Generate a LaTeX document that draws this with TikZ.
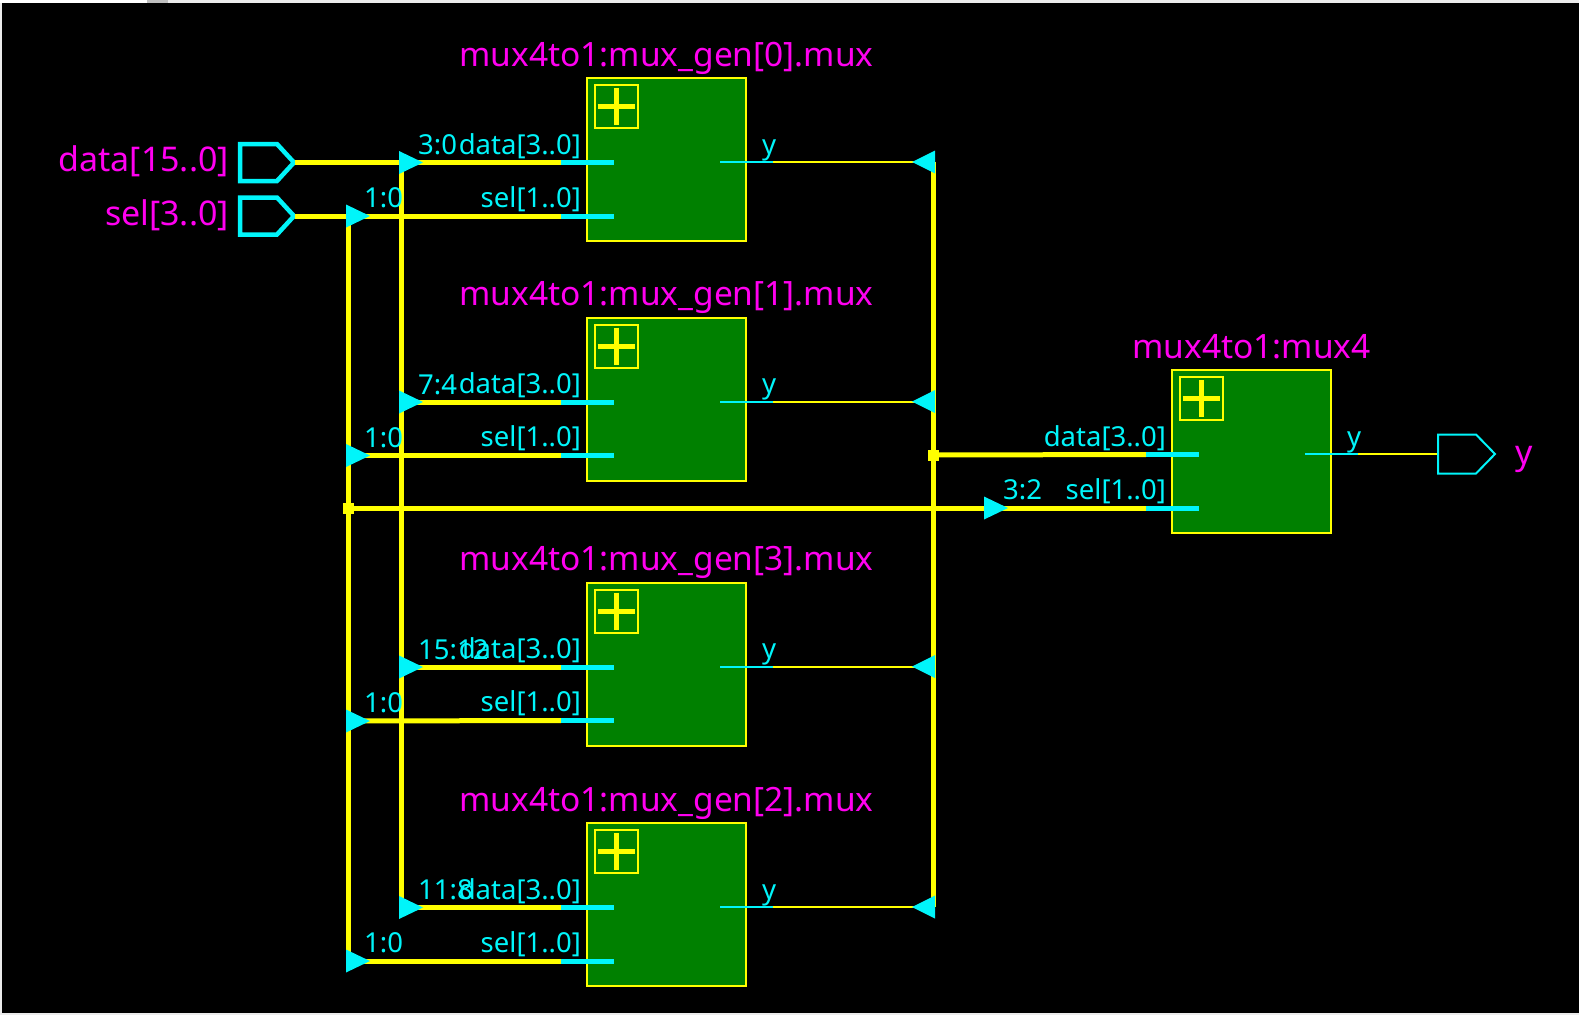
\documentclass[tikz,border=0pt]{standalone}
\usepackage{fontspec}
\setmainfont{Noto Sans}
\definecolor{wireY}{RGB}{255,255,0}
\definecolor{aqua}{RGB}{0,245,250}
\definecolor{mag}{RGB}{255,0,240}
\definecolor{blockG}{RGB}{0,128,0}
\tikzset{
  bus/.style={draw=wireY,line width=5pt},
  thinw/.style={draw=wireY,line width=2pt},
  stub/.style={draw=aqua,line width=5pt},
  thinstub/.style={draw=aqua,line width=2pt},
  blk/.style={draw=wireY,fill=blockG,line width=2pt,minimum width=159pt,minimum height=163pt,inner sep=0pt,outer sep=0pt},
  plusbox/.style={draw=wireY,line width=2pt,minimum width=43pt,minimum height=43pt,inner sep=0pt},
  plusln/.style={draw=wireY,line width=5pt},
  tip/.style={fill=aqua,draw=none},
  title/.style={text=mag,font=\fontsize{33.5}{36}\selectfont,inner sep=0pt,anchor=base},
  plab/.style={text=aqua,font=\fontsize{27.5}{30}\selectfont,inner sep=0pt},
  pinl/.style={text=mag,font=\fontsize{34}{36}\selectfont,inner sep=0pt,anchor=base east},
}
% block: name, left x, top y, title
\newcommand{\MuxBlock}[4]{%
  \node[blk,anchor=north west] (#1) at (#2,#3) {};
  \node[plusbox,anchor=north west] (#1plus) at (#2+6.5,#3+6) {};
  \draw[plusln] ($(#1plus.center)+(-18.5,0)$) -- ($(#1plus.center)+(18.5,0)$);
  \draw[plusln] ($(#1plus.center)+(0,-18.5)$) -- ($(#1plus.center)+(0,18.5)$);
  \node[title] (#1title) at (#2+79.5,#3-12) {#4};
  \coordinate (#1d) at (#2-26,#3+84.5);
  \coordinate (#1di) at (#2+27,#3+84.5);
  \coordinate (#1s) at (#2-26,#3+138);
  \coordinate (#1si) at (#2+27,#3+138);
  \coordinate (#1y) at (#2+133,#3+84);
  \coordinate (#1yo) at (#2+186,#3+84);
  \draw[thinstub] (#1y) -- (#1yo);
  \node[plab,anchor=base east] (#1dl) at (#2-6,#3+76) {data[3..0]};
  \node[plab,anchor=base east] (#1sl) at (#2-6,#3+129) {sel[1..0]};
  \node[plab,anchor=base west] (#1yl) at (#2+175,#3+76) {y};
}
\newcommand{\TipR}[1]{\fill[tip] (#1) ++(-2,-11.5) -- ++(24,11.5) -- ++(-24,11.5) -- cycle;}
\newcommand{\TipL}[1]{\fill[tip] (#1) ++(2,-11.5) -- ++(-23,11.5) -- ++(23,11.5) -- cycle;}
\usetikzlibrary{calc}
\begin{document}
\begin{tikzpicture}[x=1pt,y=-1pt]
\useasboundingbox (0,0) rectangle (1579,1015);
% window frame
\fill[white!92!black] (0,0) rectangle (1579,1015);
\fill[white] (0,0) rectangle (147,3);
\fill[black!25] (147,0) rectangle (168,3);
\fill[black] (2,3) rectangle (1579,1013);

% junction coordinates
\coordinate (busD) at (401,162.5);
\coordinate (busS) at (348,216);
\coordinate (busY) at (933,162);
\coordinate (jS) at (348,508);
\coordinate (jY) at (933,455);
\coordinate (busD1) at (401,402);
\coordinate (busD3) at (401,667);
\coordinate (busD2) at (401,907.5);
\coordinate (busS1) at (348,455.5);
\coordinate (busS3) at (348,721);
\coordinate (busS2) at (348,961);
\coordinate (busY1) at (933,401.5);
\coordinate (busY3) at (933,666.5);
\coordinate (busY2) at (933,907);
\coordinate (t32) at (986,508);

% input / output ports
\coordinate (pd) at (295,162.5);
\coordinate (ps) at (295,216);
\draw[draw=aqua,line width=4.5pt,miter limit=2] (240,144) -- (277,144) -- (294,162.5) -- (277,181) -- (240,181) -- cycle;
\draw[draw=aqua,line width=4.5pt,miter limit=2] (240,197.5) -- (277,197.5) -- (294,216) -- (277,234.5) -- (240,234.5) -- cycle;
\node[pinl] (ldata) at (229,171.5) {data[15..0]};
\node[pinl] (lsel) at (229,225.5) {sel[3..0]};

% blocks
\MuxBlock{bz}{587}{78}{mux4to1:mux\_gen[0].mux}
\MuxBlock{ba}{587}{317.5}{mux4to1:mux\_gen[1].mux}
\MuxBlock{bc}{587}{582.5}{mux4to1:mux\_gen[3].mux}
\MuxBlock{bb}{587}{823}{mux4to1:mux\_gen[2].mux}
\MuxBlock{bm}{1172}{370}{mux4to1:mux4}

% wires
\draw[bus] (pd) -- (bzd);
\draw[bus] (ps) -- (bzs);
\draw[bus] (busD) -- (busD2);
\draw[bus] (busS) -- (busS2);
\draw[bus] (busY) -- (busY2);
\draw[bus] (busD1) -- (bad);
\draw[bus] (busD3) -- (bcd);
\draw[bus] (busD2) -- (bbd);
\draw[bus] (busS1) -- (bas);
\draw[bus] (busS3) -- (bcs);
\draw[bus] (busS2) -- (bbs);
\draw[bus] (jS) -- (bms);
\draw[bus] (jY) -- (bmd);
\foreach \n/\c in {bz/busY,ba/busY1,bc/busY3,bb/busY2}{\draw[thinw] (\n yo) -- (\c);}
% pin stubs over the wires
\foreach \n in {bz,ba,bc,bb,bm}{\draw[stub] (\n d) -- (\n di); \draw[stub] (\n s) -- (\n si);}

% arrowheads
\TipR{busD}\TipR{busD1}\TipR{busD3}\TipR{busD2}
\TipR{busS}\TipR{busS1}\TipR{busS3}\TipR{busS2}
\TipL{busY}\TipL{busY1}\TipL{busY3}\TipL{busY2}
\TipR{t32}

% junction dots
\fill[wireY] ($(jS)+(-5.5,-5.5)$) rectangle ($(jS)+(5.5,5.5)$);
\fill[wireY] ($(jY)+(-5.5,-5.5)$) rectangle ($(jY)+(5.5,5.5)$);

% output
\node[inner sep=0pt,minimum width=0pt] (pout) at (1438,454) {};
\draw[thinw] (bmyo) -- (pout);
\draw[draw=aqua,line width=2pt] (pout) ++(0,-19.5) -- ++(38,0) -- ++(19,19.5) -- ++(-19,19.5) -- ++(-38,0) -- cycle;
\node[text=mag,font=\fontsize{34}{36}\selectfont,inner sep=0pt,anchor=base west] (ly) at (1515,464) {y};

% slice labels
\node[plab,anchor=base west] (r30) at (418,154) {3:0};
\node[plab,anchor=base west] (r74) at (418,394) {7:4};
\node[plab,anchor=base west] (r1512) at (418,659) {15:12};
\node[plab,anchor=base west] (r118) at (418,899) {11:8};
\node[plab,anchor=base west] (r10a) at (364,207) {1:0};
\node[plab,anchor=base west] (r10b) at (364,447) {1:0};
\node[plab,anchor=base west] (r10c) at (364,712) {1:0};
\node[plab,anchor=base west] (r10d) at (364,952) {1:0};
\node[plab,anchor=base west] (r32) at (1003,499) {3:2};
\end{tikzpicture}
\end{document}
